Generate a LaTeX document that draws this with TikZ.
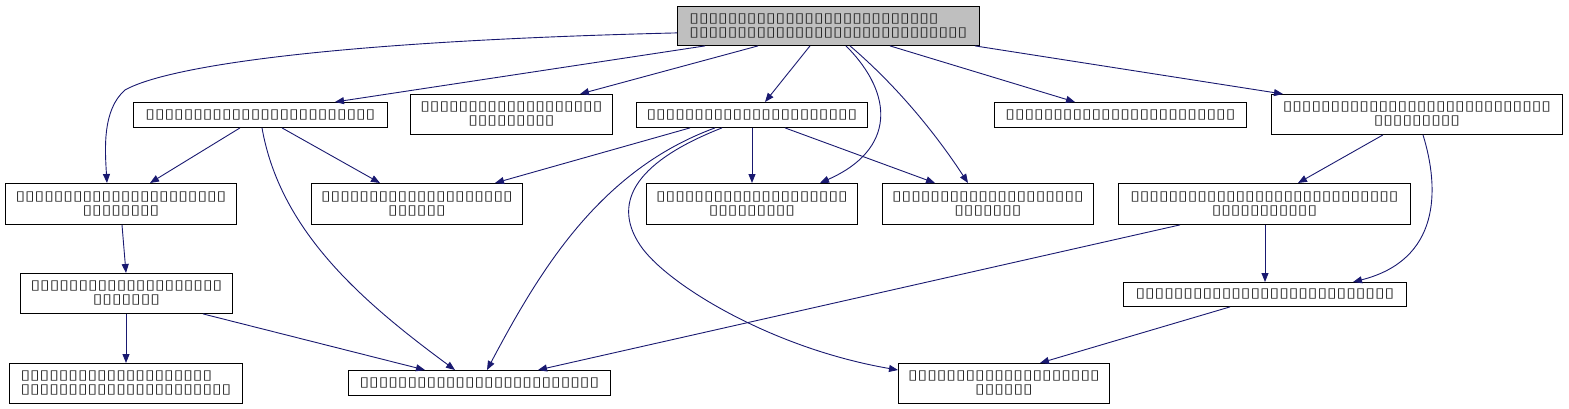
\documentclass[tikz,border=0pt]{standalone}
\usepackage{fontspec}
\usetikzlibrary{arrows.meta,calc}
\newfontfamily\tofufont[FakeStretch=1.29]{DejaVu Sans}
\newcommand\tf[1]{\foreach\k in {1,...,#1}{▯}}
\definecolor{edgeblue}{HTML}{191970}
\definecolor{topgray}{HTML}{BFBFBF}
\tikzset{
  box/.style={draw=black, line width=0.9pt, fill=white, anchor=north west, inner sep=0pt,
    font=\tofufont\fontsize{13.5}{14}\selectfont, align=center, text=black!85},
  edge/.style={draw=edgeblue, line width=0.9pt, -{Triangle[length=9pt,width=7pt]}},
}
\begin{document}
\begin{tikzpicture}[x=1pt,y=-1pt]
\useasboundingbox (0,0) rectangle (1569,409);
% nodes
\node[box, fill=topgray, align=left, minimum width=302pt, minimum height=39pt] (T) at (677,6) {\tf{26}\\\tf{29}};
\node[box, minimum width=254pt, minimum height=25pt] (A) at (133,102) {\tf{24}};
\node[box, minimum width=202pt, minimum height=40pt] (B) at (410,94) {\tf{19}\\\tf{9}};
\node[box, minimum width=231pt, minimum height=25pt] (C) at (636,102) {\tf{22}};
\node[box, minimum width=252pt, minimum height=25pt] (D) at (994,102) {\tf{24}};
\node[box, minimum width=291pt, minimum height=40pt] (E) at (1271,94) {\tf{28}\\\tf{9}};
\node[box, minimum width=231pt, minimum height=41pt] (F) at (5,183) {\tf{22}\\\tf{8}};
\node[box, minimum width=211pt, minimum height=41pt] (G) at (311,183) {\tf{20}\\\tf{6}};
\node[box, minimum width=211pt, minimum height=41pt] (H) at (646,183) {\tf{20}\\\tf{9}};
\node[box, minimum width=211pt, minimum height=41pt] (I) at (882,183) {\tf{20}\\\tf{7}};
\node[box, minimum width=292pt, minimum height=41pt] (J) at (1118,183) {\tf{28}\\\tf{11}};
\node[box, minimum width=212pt, minimum height=40pt] (K) at (20,273) {\tf{20}\\\tf{7}};
\node[box, minimum width=283pt, minimum height=24pt] (L) at (1123,282) {\tf{27}};
\node[box, align=left, minimum width=233pt, minimum height=40pt] (M) at (9,363) {\tf{20}\\\tf{22}};
\node[box, minimum width=262pt, minimum height=25pt] (N) at (348,370) {\tf{25}};
\node[box, minimum width=211pt, minimum height=40pt] (O) at (898,363) {\tf{20}\\\tf{6}};
% edges from T
\draw[edge] ($(T.south west)+(0,-13)$) .. controls (300,42) and (160,70) .. (125,90) .. controls (102,110) and (105,150) .. ($(F.north west)+(102,0)$);
\draw[edge] ($(T.south west)+(28,0)$) -- ($(A.north west)+(202,0)$);
\draw[edge] ($(T.south west)+(81,0)$) -- ($(B.north west)+(170,0)$);
\draw[edge] ($(T.south west)+(133,0)$) -- ($(C.north west)+(129,0)$);
\draw[edge] ($(T.south west)+(169,0)$) .. controls (895,95) and (895,150) .. ($(H.north west)+(174,0)$);
\draw[edge] ($(T.south west)+(173,0)$) .. controls (890,80) and (930,125) .. ($(I.north west)+(86,0)$);
\draw[edge] ($(T.south west)+(213,0)$) -- ($(D.north west)+(81,0)$);
\draw[edge] ($(T.south west)+(298,0)$) -- ($(E.north west)+(12,0)$);
% edges from A
\draw[edge] ($(A.south west)+(107,0)$) -- ($(F.north west)+(145,0)$);
\draw[edge] ($(A.south west)+(149,0)$) -- ($(G.north west)+(69,0)$);
\draw[edge] ($(A.south west)+(129,0)$) .. controls (280,230) and (360,300) .. ($(N.north west)+(107,0)$);
% edges from C
\draw[edge] ($(C.south west)+(54,0)$) -- ($(G.north west)+(184,0)$);
\draw[edge] ($(C.south west)+(116,0)$) -- ($(H.north west)+(106,0)$);
\draw[edge] ($(C.south west)+(149,0)$) -- ($(I.north west)+(53,0)$);
\draw[edge] ($(C.south west)+(79,0)$) .. controls (600,170) and (540,270) .. ($(N.north west)+(139,0)$);
\draw[edge] ($(C.south west)+(86,0)$) .. controls (640,160) and (610,200) .. (640,245) .. controls (665,283) and (770,348) .. ($(O.north west)+(0,7)$);
% edges from E
\draw[edge] ($(E.south west)+(112,0)$) -- ($(J.north west)+(180,0)$);
\draw[edge] ($(E.south west)+(152,0)$) .. controls (1440,190) and (1440,260) .. ($(L.north west)+(230,0)$);
% edges from J
\draw[edge] ($(J.south west)+(147,0)$) -- ($(L.north west)+(142,0)$);
\draw[edge] ($(J.south west)+(62,0)$) -- ($(N.north west)+(190,0)$);
% others
\draw[edge] ($(F.south west)+(117,0)$) -- ($(K.north west)+(106,0)$);
\draw[edge] ($(K.south west)+(106,0)$) -- ($(M.north west)+(117,0)$);
\draw[edge] ($(K.south west)+(183,0)$) -- ($(N.north west)+(77,0)$);
\draw[edge] ($(L.south west)+(107,0)$) -- ($(O.north west)+(142,0)$);
\end{tikzpicture}
\end{document}
